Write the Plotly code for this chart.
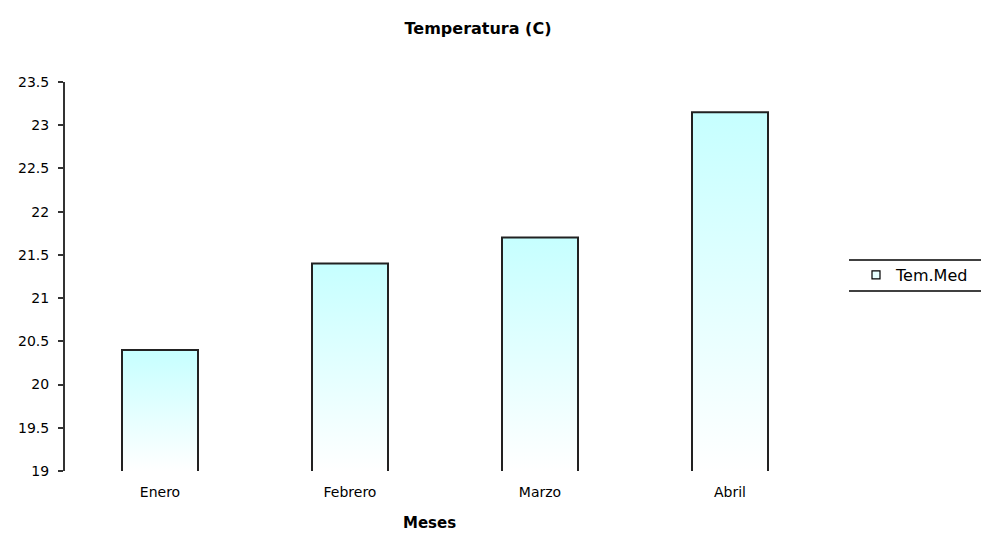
import plotly.graph_objects as go

months = ["Enero", "Febrero", "Marzo", "Abril"]
tem_med = [20.4, 21.4, 21.7, 23.15]
y_ticks = [19, 19.5, 20, 20.5, 21, 21.5, 22, 22.5, 23, 23.5]
y_min = 19
bar_width = 0.4

# page is offset by the 8px default body margin
W, H = 981, 525
L, R, T, B = 57, 164, 74, 62
PW, PH = W - L - R, H - T - B

fig = go.Figure()
for i, v in enumerate(tem_med):
    x0, x1 = i - bar_width / 2, i + bar_width / 2
    fig.add_trace(go.Scatter(
        x=[x0, x0, x1, x1], y=[y_min, v, v, y_min],
        mode="lines", fill="toself",
        fillgradient=dict(type="vertical",
                          colorscale=[[0, "#ffffff"], [1, "#c6ffff"]]),
        line=dict(color="#222222", width=2),
        showlegend=False, hoverinfo="skip",
    ))

fig.add_trace(go.Scatter(
    x=[None], y=[None], mode="markers", name="Tem.Med",
    marker=dict(symbol="square", size=8, color="#e8ffff",
                line=dict(color="#000000", width=1.2)),
))

fig.update_layout(
    width=W, height=H,
    margin=dict(l=L, r=R, t=T, b=B, autoexpand=False),
    paper_bgcolor="white", plot_bgcolor="white",
    font=dict(family="DejaVu Sans, Verdana, sans-serif", size=14, color="#000"),
    title=dict(text="<b>Temperatura (C)</b>", x=470 / W, xanchor="center",
               y=1 - 20 / H, yanchor="middle",
               font=dict(family="DejaVu Sans", size=16)),
    legend=dict(x=(848 - L) / PW, xanchor="left",
                y=(PH - (267 - T)) / PH, yanchor="middle",
                bgcolor="rgba(0,0,0,0)", borderwidth=0,
                font=dict(family="DejaVu Sans", size=16),
                itemwidth=30),
    showlegend=True,
)
fig.update_xaxes(
    range=[-0.5, 3.5], tickvals=list(range(len(months))), ticktext=months,
    showgrid=False, zeroline=False, showline=False, ticks="",
    tickfont=dict(size=14), ticklabelstandoff=11, automargin=False,
)
fig.update_yaxes(
    range=[19, 23.5], tickvals=y_ticks, showgrid=False, zeroline=False,
    showline=True, linecolor="#333", linewidth=2, ticks="outside",
    ticklen=5, tickcolor="#333", tickwidth=2, tickfont=dict(size=14),
    ticklabelstandoff=6, automargin=False,
)
fig.add_annotation(text="<b>Meses</b>", xref="paper", yref="paper",
                   x=(421 - L) / PW, y=-(515 - (T + PH)) / PH,
                   xanchor="center", yanchor="middle", showarrow=False,
                   font=dict(family="DejaVu Sans", size=15))
for yy in [252, 283]:
    fig.add_shape(type="line", xref="paper", yref="paper",
                  x0=(841 - L) / PW, x1=(W - L) / PW,
                  y0=(T + PH - yy) / PH, y1=(T + PH - yy) / PH,
                  line=dict(color="#000", width=1.3))

fig.write_html("out.html")
